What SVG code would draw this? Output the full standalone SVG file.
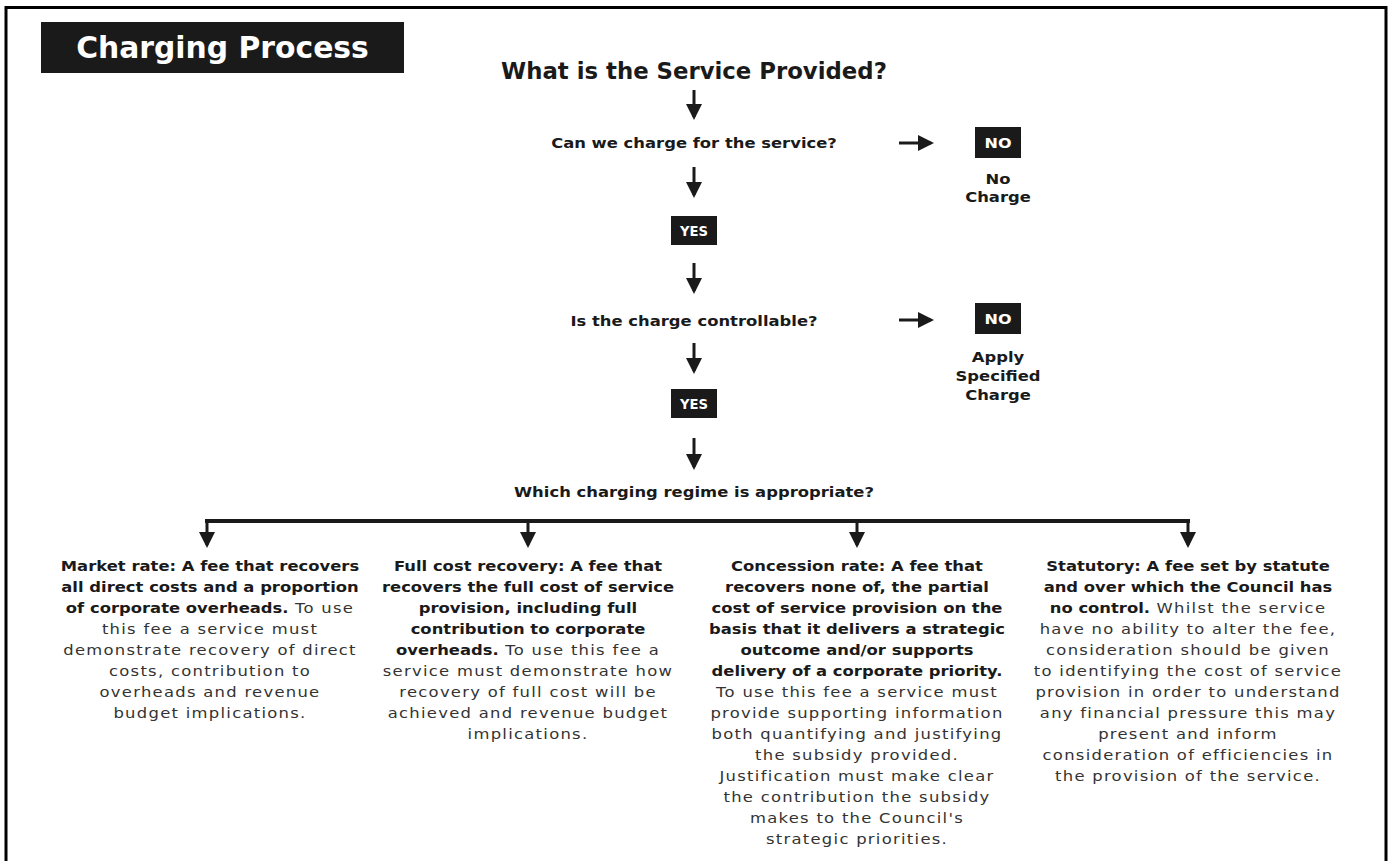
<svg xmlns="http://www.w3.org/2000/svg" width="1392" height="861" viewBox="0 0 1392 861">
<defs>
<marker id="ah" viewBox="0 0 16 16" refX="13" refY="8" markerWidth="16" markerHeight="16" markerUnits="userSpaceOnUse" orient="auto">
<path d="M0,0 L16,8 L0,16 Z" fill="#1a1a1a"/>
</marker>
</defs>
<style>
.t{font-family:"DejaVu Sans",sans-serif;font-size:13.5px;text-anchor:middle;fill:#1a1a1a}
.b{font-weight:bold}
.r{font-weight:normal;letter-spacing:1.05px;fill:#333}
.box{fill:#1a1a1a}
.bt{font-family:"DejaVu Sans",sans-serif;font-weight:bold;font-size:14.5px;fill:#fff;text-anchor:middle}
.ar{stroke:#1a1a1a;stroke-width:3;fill:none;marker-end:url(#ah)}
.bar{stroke:#1a1a1a;stroke-width:4;fill:none}
</style>
<rect width="1392" height="861" fill="#fff"/>
<path d="M6,861 V7.5 H1386 V861" fill="none" stroke="#000" stroke-width="3"/>

<g id="title">
<rect x="41" y="22" width="363" height="51" class="box"/>
<text x="222.5" y="58" font-family="DejaVu Sans, sans-serif" font-weight="bold" font-size="29.8" fill="#fff" text-anchor="middle">Charging Process</text>
</g>

<g id="q-service">
<text x="694" y="79" font-family="DejaVu Sans, sans-serif" font-weight="bold" font-size="22.8" fill="#1a1a1a" text-anchor="middle">What is the Service Provided?</text>
</g>

<g id="q-charge" transform="translate(694,148) scale(1.215,1)">
<text class="t b" x="0" y="0">Can we charge for the service?</text>
</g>

<g id="no-1">
<rect x="975" y="127" width="46" height="31" class="box"/>
<text class="bt" x="998" y="148" textLength="27" lengthAdjust="spacingAndGlyphs">NO</text>
</g>
<g id="no-charge" transform="translate(998,0) scale(1.215,1)">
<text class="t b" x="0" y="184">No</text>
<text class="t b" x="0" y="202">Charge</text>
</g>

<g id="yes-1">
<rect x="671" y="216" width="46" height="29" class="box"/>
<text class="bt" x="694" y="236" textLength="28" lengthAdjust="spacingAndGlyphs">YES</text>
</g>

<g id="q-control" transform="translate(694,326) scale(1.215,1)">
<text class="t b" x="0" y="0">Is the charge controllable?</text>
</g>

<g id="no-2">
<rect x="975" y="303" width="46" height="31" class="box"/>
<text class="bt" x="998" y="324" textLength="27" lengthAdjust="spacingAndGlyphs">NO</text>
</g>
<g id="apply-charge" transform="translate(998,0) scale(1.215,1)">
<text class="t b" x="0" y="362">Apply</text>
<text class="t b" x="0" y="381">Specified</text>
<text class="t b" x="0" y="400">Charge</text>
</g>

<g id="yes-2">
<rect x="671" y="389" width="46" height="29" class="box"/>
<text class="bt" x="694" y="409" textLength="28" lengthAdjust="spacingAndGlyphs">YES</text>
</g>

<g id="q-regime" transform="translate(694,497) scale(1.215,1)">
<text class="t b" x="0" y="0">Which charging regime is appropriate?</text>
</g>

<g id="connectors">
<line class="ar" x1="694" y1="90" x2="694" y2="117"/>
<line class="ar" x1="694" y1="167" x2="694" y2="195"/>
<line class="ar" x1="694" y1="263" x2="694" y2="291"/>
<line class="ar" x1="694" y1="343" x2="694" y2="371"/>
<line class="ar" x1="694" y1="438" x2="694" y2="467"/>
<line class="ar" x1="899" y1="143" x2="931" y2="143"/>
<line class="ar" x1="899" y1="320" x2="931" y2="320"/>
<path class="bar" d="M207,523 V521 H1188 V523"/>
<line class="ar" x1="207" y1="521" x2="207" y2="545"/>
<line class="ar" x1="528" y1="521" x2="528" y2="545"/>
<line class="ar" x1="857" y1="521" x2="857" y2="545"/>
<line class="ar" x1="1188" y1="521" x2="1188" y2="545"/>
</g>

<g id="col-market" transform="translate(210,0) scale(1.215,1)">
<text class="t" x="0" y="571"><tspan class="b">Market rate: A fee that recovers</tspan></text>
<text class="t" x="0" y="592"><tspan class="b">all direct costs and a proportion</tspan></text>
<text class="t" x="0" y="613"><tspan class="b">of corporate overheads.</tspan><tspan class="r"> To use</tspan></text>
<text class="t" x="0" y="634"><tspan class="r">this fee a service must</tspan></text>
<text class="t" x="0" y="655"><tspan class="r">demonstrate recovery of direct</tspan></text>
<text class="t" x="0" y="676"><tspan class="r">costs, contribution to</tspan></text>
<text class="t" x="0" y="697"><tspan class="r">overheads and revenue</tspan></text>
<text class="t" x="0" y="718"><tspan class="r">budget implications.</tspan></text>
</g>

<g id="col-full" transform="translate(528,0) scale(1.215,1)">
<text class="t" x="0" y="571"><tspan class="b">Full cost recovery: A fee that</tspan></text>
<text class="t" x="0" y="592"><tspan class="b">recovers the full cost of service</tspan></text>
<text class="t" x="0" y="613"><tspan class="b">provision, including full</tspan></text>
<text class="t" x="0" y="634"><tspan class="b">contribution to corporate</tspan></text>
<text class="t" x="0" y="655"><tspan class="b">overheads.</tspan><tspan class="r"> To use this fee a</tspan></text>
<text class="t" x="0" y="676"><tspan class="r">service must demonstrate how</tspan></text>
<text class="t" x="0" y="697"><tspan class="r">recovery of full cost will be</tspan></text>
<text class="t" x="0" y="718"><tspan class="r">achieved and revenue budget</tspan></text>
<text class="t" x="0" y="739"><tspan class="r">implications.</tspan></text>
</g>

<g id="col-concession" transform="translate(857,0) scale(1.215,1)">
<text class="t" x="0" y="571"><tspan class="b">Concession rate: A fee that</tspan></text>
<text class="t" x="0" y="592"><tspan class="b">recovers none of, the partial</tspan></text>
<text class="t" x="0" y="613"><tspan class="b">cost of service provision on the</tspan></text>
<text class="t" x="0" y="634"><tspan class="b">basis that it delivers a strategic</tspan></text>
<text class="t" x="0" y="655"><tspan class="b">outcome and/or supports</tspan></text>
<text class="t" x="0" y="676"><tspan class="b">delivery of a corporate priority.</tspan></text>
<text class="t" x="0" y="697"><tspan class="r">To use this fee a service must</tspan></text>
<text class="t" x="0" y="718"><tspan class="r">provide supporting information</tspan></text>
<text class="t" x="0" y="739"><tspan class="r">both quantifying and justifying</tspan></text>
<text class="t" x="0" y="760"><tspan class="r">the subsidy provided.</tspan></text>
<text class="t" x="0" y="781"><tspan class="r">Justification must make clear</tspan></text>
<text class="t" x="0" y="802"><tspan class="r">the contribution the subsidy</tspan></text>
<text class="t" x="0" y="823"><tspan class="r">makes to the Council's</tspan></text>
<text class="t" x="0" y="844"><tspan class="r">strategic priorities.</tspan></text>
</g>

<g id="col-statutory" transform="translate(1188,0) scale(1.215,1)">
<text class="t" x="0" y="571"><tspan class="b">Statutory: A fee set by statute</tspan></text>
<text class="t" x="0" y="592"><tspan class="b">and over which the Council has</tspan></text>
<text class="t" x="0" y="613"><tspan class="b">no control.</tspan><tspan class="r"> Whilst the service</tspan></text>
<text class="t" x="0" y="634"><tspan class="r">have no ability to alter the fee,</tspan></text>
<text class="t" x="0" y="655"><tspan class="r">consideration should be given</tspan></text>
<text class="t" x="0" y="676"><tspan class="r">to identifying the cost of service</tspan></text>
<text class="t" x="0" y="697"><tspan class="r">provision in order to understand</tspan></text>
<text class="t" x="0" y="718"><tspan class="r">any financial pressure this may</tspan></text>
<text class="t" x="0" y="739"><tspan class="r">present and inform</tspan></text>
<text class="t" x="0" y="760"><tspan class="r">consideration of efficiencies in</tspan></text>
<text class="t" x="0" y="781"><tspan class="r">the provision of the service.</tspan></text>
</g>
</svg>
